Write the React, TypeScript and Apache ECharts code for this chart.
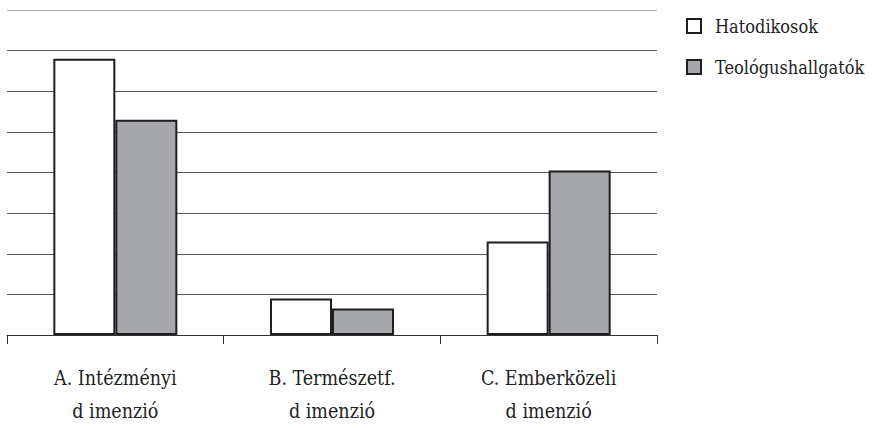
import React, { useEffect, useRef } from "react";
import * as echarts from "echarts";

const categories = ["A. Intézményi\nd imenzió", "B. Természetf.\nd imenzió", "C. Emberközeli\nd imenzió"];
const seriesNames = ["Hatodikosok", "Teológushallgatók"];
const hatodikosok = [68, 9, 23];
const teologus = [53, 6.5, 40.5];

export default function App() {
  const ref = useRef<HTMLDivElement>(null);
  useEffect(() => {
    const chart = echarts.init(ref.current!, null, { renderer: "svg" });
    const font = "DejaVu Serif Condensed";
    chart.setOption({
      animation: false,
      backgroundColor: "#ffffff",
      textStyle: { fontFamily: font },
      grid: { left: 7, right: 216, top: 10, bottom: 86, containLabel: false },
      legend: {
        orient: "vertical",
        left: 686,
        top: 17,
        padding: 0,
        itemWidth: 14,
        itemHeight: 14,
        itemGap: 23,
        icon: "rect",
        textStyle: { fontFamily: font, fontSize: 18, color: "#222", padding: [0, 0, 0, 9] },
        data: seriesNames,
      },
      xAxis: {
        type: "category",
        data: categories,
        axisLine: { lineStyle: { color: "#333", width: 1 } },
        axisTick: { show: true, length: 9, lineStyle: { color: "#333" } },
        axisLabel: { fontFamily: font, fontSize: 19.5, color: "#222", lineHeight: 33, margin: 27 },
      },
      yAxis: {
        type: "value",
        min: 0,
        max: 80,
        interval: 10,
        axisLabel: { show: false },
        axisLine: { show: false },
        axisTick: { show: false },
        splitLine: {
          lineStyle: {
            color: ["#555", "#555", "#555", "#555", "#555", "#555", "#555", "#555", "#aaa"],
            width: 1,
          },
        },
      },
      series: [
        {
          name: seriesNames[0],
          type: "bar",
          data: hatodikosok,
          barWidth: 62,
          barGap: "0%",
          itemStyle: { color: "#ffffff", borderColor: "#1e1e1e", borderWidth: 2 },
        },
        {
          name: seriesNames[1],
          type: "bar",
          data: teologus,
          barWidth: 62,
          itemStyle: { color: "#a6a7aa", borderColor: "#1e1e1e", borderWidth: 2 },
        },
      ],
    });
    return () => chart.dispose();
  }, []);
  return <div ref={ref} style={{ width: 873, height: 428, position: "absolute", left: 0, top: 0 }} />;
}
